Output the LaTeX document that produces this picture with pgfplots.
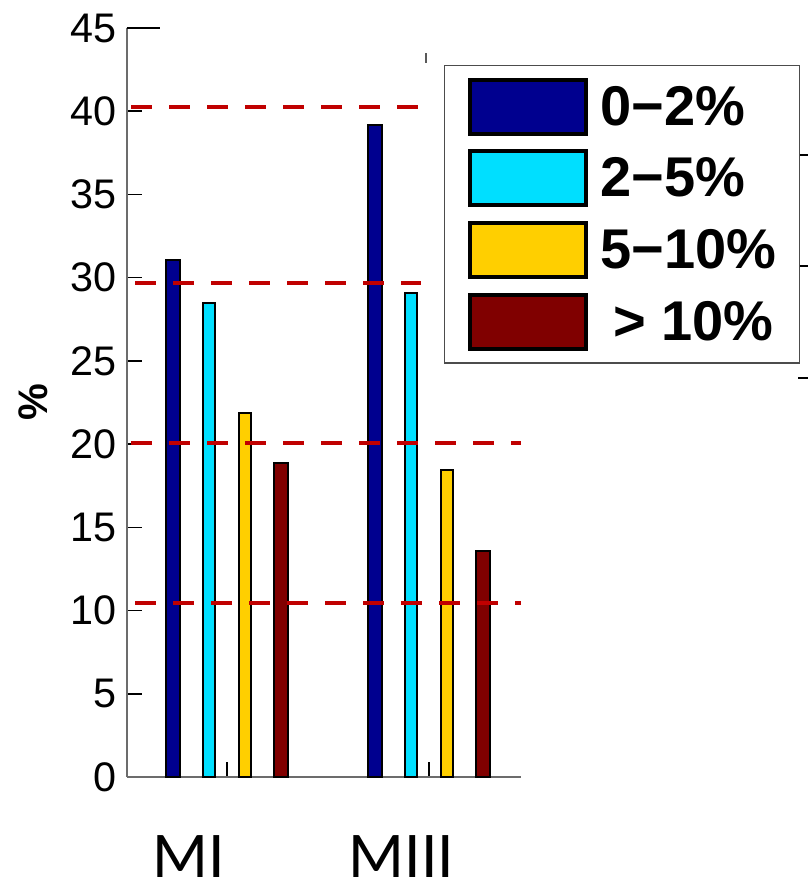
\documentclass[border=0pt]{standalone}
\usepackage{fontspec}
\setmainfont{Liberation Sans}
\newfontfamily\calibri{Carlito}
\usepackage{pgfplots}
\pgfplotsset{compat=1.18}
\definecolor{jblue}{RGB}{0,0,143}
\definecolor{jcyan}{RGB}{0,223,255}
\definecolor{jyellow}{RGB}{255,207,0}
\definecolor{jmaroon}{RGB}{128,0,0}
\definecolor{dred}{RGB}{192,0,0}
\pgfplotsset{
  lgbox/.style={legend image code/.code={\draw[##1, line width=3pt] (0pt,-20.25pt) rectangle (87pt,20.25pt);}},
  mybar/.style={ybar, bar width=10pt, bar shift=0pt, draw=black, line width=1.5pt, lgbox},
  refline/.style={forget plot, dred, line width=3pt, dash pattern=on 16pt off 12.5pt},
}
\begin{document}
\begin{tikzpicture}
\begin{axis}[
  at={(0pt,0pt)}, anchor=south west,
  scale only axis, width=295.5pt, height=561.75pt,
  xmin=0.505, xmax=2.455, ymin=0, ymax=45,
  axis x line*=bottom, axis y line*=left,
  axis line style={draw=gray!85!black, line width=2pt},
  tick align=inside,
  major tick length=11.5pt,
  tick style={black, line width=1.1pt},
  xtick={1,2}, xticklabels={},
  ytick={0,5,...,45},
  /pgf/number format/assume math mode=true,
  yticklabel style={font=\fontsize{31}{31}\selectfont, inner sep=0pt, xshift=-7.5pt},
  ylabel={\%},
  ylabel style={at={(axis description cs:-0.2386,0.5)}, anchor=center, font=\fontsize{31}{31}\selectfont\bfseries},
  clip=false,
  legend style={at={(rel axis cs:0.805,0.9506)}, anchor=north west, draw=gray!60!black, line width=1pt,
    inner xsep=17pt, inner ysep=9pt, row sep=10.3pt, column sep=10pt,
    font=\fontsize{42}{42}\selectfont\bfseries, nodes={inner sep=0pt}},
  legend cell align=left,
]
\addplot[mybar, bar width=11pt, fill=jblue]  coordinates {(0.733,31.05) (1.733,39.2)};
\addplot[mybar, bar width=9.5pt, fill=jcyan]   coordinates {(0.911,28.45) (1.911,29.1)};
\addplot[mybar, bar width=9.5pt, fill=jyellow] coordinates {(1.089,21.85) (2.089,18.45)};
\addplot[mybar, bar width=11pt, fill=jmaroon] coordinates {(1.267,18.85) (2.267,13.55)};
\legend{0−2\%, 2−5\%, 5−10\%, \hspace*{0.22em}> 10\%}

\addplot[refline] coordinates {(0.525,40.26) (1.951,40.26)};
\addplot[refline] coordinates {(0.545,29.7) (1.960,29.7)};
\addplot[refline] coordinates {(0.525,20.07) (2.455,20.07)};
\addplot[refline] coordinates {(0.545,10.46) (2.455,10.46)};

\draw[black, line width=1.1pt] (axis cs:0.505,45) -- ++(24.75pt,0pt);
\draw[gray!70!black, line width=1.5pt] (axis cs:1.985,42.9) -- (axis cs:1.985,43.5);
\draw[black, line width=1pt] (axis cs:3.827,37.38) -- ++(7.5pt,0pt);
\draw[black, line width=1pt] (axis cs:3.827,30.7) -- ++(7.5pt,0pt);
\draw[black, line width=1pt] (axis cs:3.827,23.98) -- ++(7.5pt,0pt);

\node[anchor=base, inner sep=0pt, text depth=0pt, yshift=-75pt, font=\calibri\fontsize{49}{49}\selectfont] at (axis cs:0.812,0) {MI};
\node[anchor=base, inner sep=0pt, text depth=0pt, yshift=-75pt, font=\calibri\fontsize{49}{49}\selectfont] at (axis cs:1.864,0) {MIII};
\end{axis}
\pgfresetboundingbox
\useasboundingbox (-95.25pt,-79.5pt) rectangle (510.75pt,582.75pt);
\end{tikzpicture}
\end{document}
